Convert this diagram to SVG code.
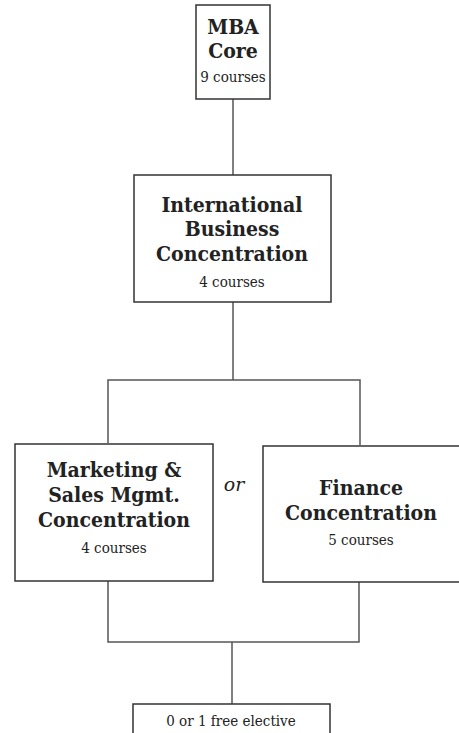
<svg xmlns="http://www.w3.org/2000/svg" width="459" height="733" viewBox="0 0 459 733">
<style>
.box{fill:#fff;stroke:#333;stroke-width:1.5}
.t{font-family:"DejaVu Serif Condensed","DejaVu Serif",serif;font-stretch:condensed;font-weight:bold;font-size:21px;fill:#222;text-anchor:middle}
.s{font-family:"DejaVu Serif Condensed","DejaVu Serif",serif;font-stretch:condensed;font-size:15px;fill:#222;text-anchor:middle}
.c{fill:none;stroke:#555;stroke-width:1.5}
</style>
<rect width="459" height="733" fill="#fff"/>
<g id="connectors">
<path class="c" d="M233 99V175"/>
<path class="c" d="M233 302V380"/>
<path class="c" d="M108 443V380H360V445"/>
<path class="c" d="M108 581V642H359V582"/>
<path class="c" d="M232 642V704"/>
</g>
<g id="mba">
<rect class="box" x="196" y="5" width="74" height="94"/>
<text class="t" x="233" y="34">MBA</text>
<text class="t" x="233" y="58">Core</text>
<text class="s" x="233" y="82">9 courses</text>
</g>
<g id="intl">
<rect class="box" x="134" y="175" width="197" height="127"/>
<text class="t" x="232" y="212">International</text>
<text class="t" x="232" y="236">Business</text>
<text class="t" x="232" y="261">Concentration</text>
<text class="s" x="232" y="287">4 courses</text>
</g>
<g id="marketing">
<rect class="box" x="15" y="444" width="198" height="137"/>
<text class="t" x="114" y="477">Marketing &amp;</text>
<text class="t" x="114" y="502">Sales Mgmt.</text>
<text class="t" x="114" y="527">Concentration</text>
<text class="s" x="114" y="553">4 courses</text>
</g>
<g id="or">
<text x="234" y="491" style="font-family:'DejaVu Serif',serif;font-style:italic;font-size:19px;fill:#222;text-anchor:middle">or</text>
</g>
<g id="finance">
<rect class="box" x="263" y="446" width="200" height="136"/>
<text class="t" x="361" y="495">Finance</text>
<text class="t" x="361" y="520">Concentration</text>
<text class="s" x="361" y="545">5 courses</text>
</g>
<g id="elective">
<rect class="box" x="133" y="704" width="197" height="40"/>
<text class="s" x="231" y="726">0 or 1 free elective</text>
</g>
</svg>
